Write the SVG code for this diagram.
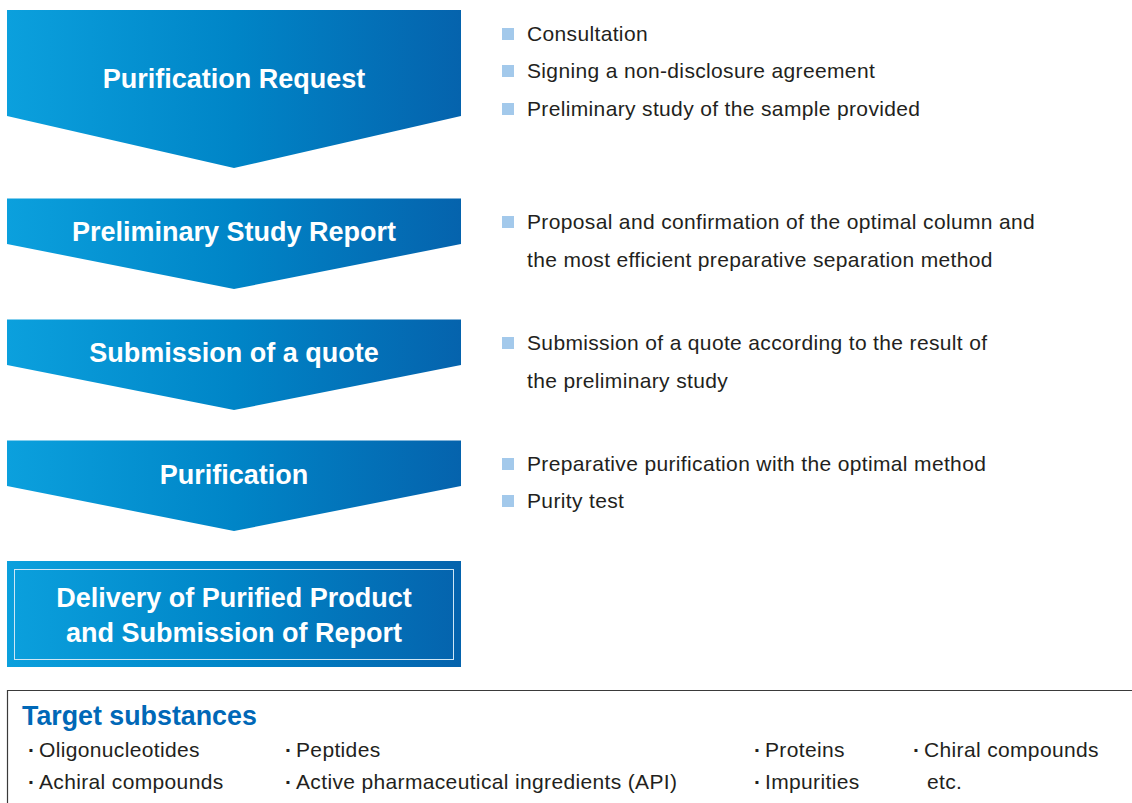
<svg xmlns="http://www.w3.org/2000/svg" width="1132" height="803" viewBox="0 0 1132 803">
<defs>
<linearGradient id="g" x1="0" y1="0" x2="1" y2="0">
<stop offset="0" stop-color="#0ba0dd"/>
<stop offset="0.5" stop-color="#0085c7"/>
<stop offset="1" stop-color="#0563ad"/>
</linearGradient>
<style>
.step{fill:url(#g);}
.t{font-family:"Liberation Sans",Arial,sans-serif;font-weight:bold;font-size:27px;fill:#fff;text-anchor:middle;}
.d{font-family:"Liberation Sans",Arial,sans-serif;font-size:21px;letter-spacing:0.35px;fill:#231f20;}
.b{font-family:"Liberation Sans",Arial,sans-serif;font-size:21px;font-weight:bold;fill:#231f20;}
.sq{fill:#a3c9eb;}
.h{font-family:"Liberation Sans",Arial,sans-serif;font-weight:bold;font-size:26.8px;fill:#0068b7;}
</style>
</defs>
<rect width="1132" height="803" fill="#fff"/>
<g id="connectors"></g>
<g id="step1">
<polygon class="step" points="7,10 461,10 461,116 234,168 7,116"/>
<text class="t" x="234" y="88">Purification Request</text>
</g>
<g id="step2">
<polygon class="step" points="7,198.5 461,198.5 461,244 234,289 7,244"/>
<text class="t" x="234" y="241">Preliminary Study Report</text>
</g>
<g id="step3">
<polygon class="step" points="7,319.5 461,319.5 461,365 234,410 7,365"/>
<text class="t" x="234" y="362">Submission of a quote</text>
</g>
<g id="step4">
<polygon class="step" points="7,440.5 461,440.5 461,486 234,531 7,486"/>
<text class="t" x="234" y="484">Purification</text>
</g>
<g id="step5">
<rect class="step" x="7" y="561" width="454" height="106"/>
<rect x="14.5" y="569.5" width="439" height="90" fill="none" stroke="#cfe6f5" stroke-width="1"/>
<text class="t" x="234" y="607">Delivery of Purified Product</text>
<text class="t" x="234" y="642">and Submission of Report</text>
</g>
<g id="notes1">
<rect class="sq" x="502" y="28" width="12" height="12"/>
<text class="d" x="527" y="41">Consultation</text>
<rect class="sq" x="502" y="65" width="12" height="12"/>
<text class="d" x="527" y="78">Signing a non-disclosure agreement</text>
<rect class="sq" x="502" y="103" width="12" height="12"/>
<text class="d" x="527" y="116">Preliminary study of the sample provided</text>
</g>
<g id="notes2">
<rect class="sq" x="502" y="216" width="12" height="12"/>
<text class="d" x="527" y="229">Proposal and confirmation of the optimal column and</text>
<text class="d" x="527" y="267">the most efficient preparative separation method</text>
</g>
<g id="notes3">
<rect class="sq" x="502" y="337" width="12" height="12"/>
<text class="d" x="527" y="350">Submission of a quote according to the result of</text>
<text class="d" x="527" y="388">the preliminary study</text>
</g>
<g id="notes4">
<rect class="sq" x="502" y="458" width="12" height="12"/>
<text class="d" x="527" y="471">Preparative purification with the optimal method</text>
<rect class="sq" x="502" y="495" width="12" height="12"/>
<text class="d" x="527" y="508">Purity test</text>
</g>
<g id="targets">
<path d="M7.5,803 V690.5 H1132" fill="none" stroke="#3a3a3a" stroke-width="1.2"/>
<text class="h" x="22" y="725">Target substances</text>
<text class="b" x="28" y="757">·</text><text class="d" x="39" y="757">Oligonucleotides</text>
<text class="b" x="28" y="789">·</text><text class="d" x="39" y="789">Achiral compounds</text>
<text class="b" x="285" y="757">·</text><text class="d" x="296" y="757">Peptides</text>
<text class="b" x="285" y="789">·</text><text class="d" x="296" y="789">Active pharmaceutical ingredients (API)</text>
<text class="b" x="754" y="757">·</text><text class="d" x="765" y="757">Proteins</text>
<text class="b" x="754" y="789">·</text><text class="d" x="765" y="789">Impurities</text>
<text class="b" x="913" y="757">·</text><text class="d" x="924" y="757">Chiral compounds</text>
<text class="d" x="927" y="789">etc.</text>
</g>
</svg>
